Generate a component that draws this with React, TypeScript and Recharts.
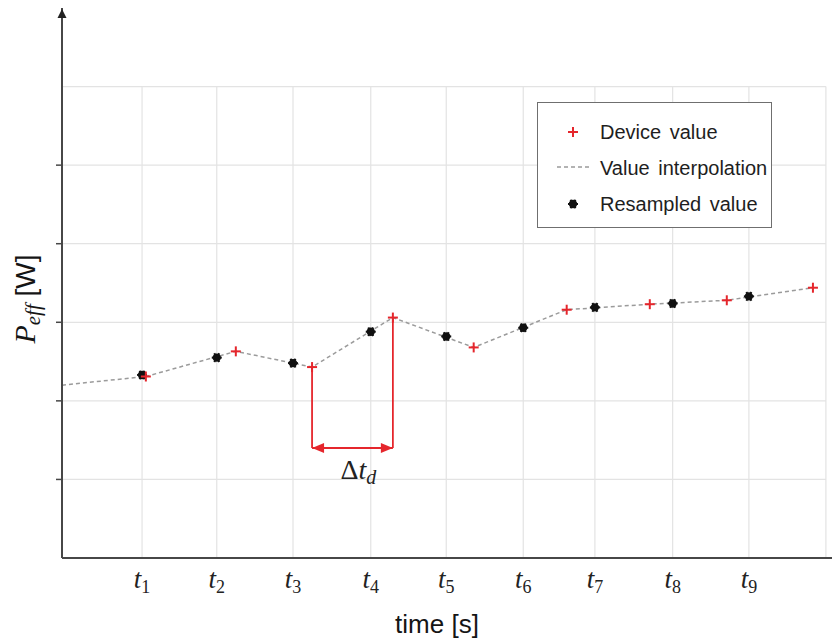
import React from "react";
import { ComposedChart, Line, Scatter, XAxis, YAxis, ReferenceLine, ReferenceDot } from "recharts";

// sample instants t1..t9 (x positions)
const tickPos = [1.05, 2.03, 3.03, 4.05, 5.04, 6.05, 6.99, 8.01, 9.01];
const tickNames = ["1", "2", "3", "4", "5", "6", "7", "8", "9"];

// device values (red +)
const deviceX = [1.1, 2.28, 3.28, 4.34, 5.4, 6.62, 7.71, 8.72, 9.85];
const deviceP = [2.31, 2.63, 2.43, 3.06, 2.68, 3.16, 3.23, 3.28, 3.44];

// resampled values (black)
const resampledX = [1.05, 2.03, 3.03, 4.05, 5.04, 6.05, 6.99, 8.01, 9.01];
const resampledP = [2.33, 2.55, 2.48, 2.88, 2.82, 2.93, 3.19, 3.24, 3.33];

// interpolation line: starts at the axis, then runs through the device values
const interpX = [0, ...deviceX];
const interpP = [2.2, ...deviceP];

const gridLevels = [1, 2, 3, 4, 5, 6];
const yTicks = [1, 2, 3, 4, 5];
const gridRight = 10.02;
const xMax = 10.1;
const yMax = 7;

// Δt_d annotation between device value 3 and 4
const delayFrom = 3.28;
const delayTo = 4.34;
const delayLevel = 1.4;

const deviceData = deviceX.map((x, i) => ({ x, p: deviceP[i] }));
const resampledData = resampledX.map((x, i) => ({ x, p: resampledP[i] }));
const interpData = interpX.map((x, i) => ({ x, p: interpP[i] }));

const RED = "#e5262c";
const AXIS = "#474747";
const GRID = "#e3e3e3";
const SERIF = "'Liberation Serif', 'DejaVu Serif', serif";
const SANS = "'Liberation Sans', Arial, sans-serif";

const PlusMark = ({ cx, cy }: any) => (
  <g stroke={RED} strokeWidth={2}>
    <line x1={cx - 5} y1={cy} x2={cx + 5} y2={cy} />
    <line x1={cx} y1={cy - 5} x2={cx} y2={cy + 5} />
  </g>
);

const StarMark = ({ cx, cy }: any) => (
  <g fill="#111" stroke="#111" strokeWidth={2}>
    <circle cx={cx} cy={cy} r={3.2} />
    <line x1={cx - 5} y1={cy} x2={cx + 5} y2={cy} />
    <line x1={cx - 2.5} y1={cy - 4.3} x2={cx + 2.5} y2={cy + 4.3} />
    <line x1={cx - 2.5} y1={cy + 4.3} x2={cx + 2.5} y2={cy - 4.3} />
  </g>
);

const TimeTick = ({ x, y, payload }: any) => {
  const i = tickPos.indexOf(payload.value);
  return (
    <text x={x} y={y + 22} textAnchor="middle" fontFamily={SERIF} fill="#222">
      <tspan fontStyle="italic" fontSize={27}>t</tspan>
      <tspan fontSize={18} dy={5}>{tickNames[i]}</tspan>
    </text>
  );
};

const legendRows = [
  { name: "Device value", icon: <PlusMark cx={35} cy={18} /> },
  {
    name: "Value interpolation",
    icon: <line x1={19} y1={17} x2={51} y2={17} stroke="#9b9b9b" strokeWidth={1.5} strokeDasharray="4 3" />,
  },
  { name: "Resampled value", icon: <StarMark cx={35} cy={18} /> },
];

export default function App() {
  return (
    <div style={{ position: "absolute", left: 0, top: 0, width: 832, height: 640, background: "#fff" }}>
      <ComposedChart width={832} height={640} margin={{ top: 8, right: 0, bottom: 22, left: 12 }}>
        <XAxis
          type="number"
          dataKey="x"
          domain={[0, xMax]}
          ticks={tickPos}
          interval={0}
          allowDataOverflow
          tick={<TimeTick />}
          tickLine={false}
          axisLine={{ stroke: AXIS, strokeWidth: 2 }}
          height={60}
          label={{
            content: ({ viewBox }: any) => (
              <text
                x={viewBox.x + viewBox.width / 2 - 10}
                y={viewBox.y + 75}
                textAnchor="middle"
                fontSize={26}
                fontFamily={SANS}
                fill="#151515"
              >
                time [s]
              </text>
            ),
          }}
        />
        <YAxis
          type="number"
          dataKey="p"
          domain={[0, yMax]}
          ticks={yTicks}
          interval={0}
          allowDataOverflow
          width={50}
          tickFormatter={() => ""}
          tickSize={6}
          tickLine={{ stroke: AXIS, strokeWidth: 1.5 }}
          axisLine={{ stroke: AXIS, strokeWidth: 2 }}
          label={{
            content: ({ viewBox }: any) => (
              <text
                transform={`translate(${viewBox.x + 23},${viewBox.y + viewBox.height / 2 + 16}) rotate(-90)`}
                textAnchor="middle"
                fill="#151515"
              >
                <tspan fontFamily={SERIF} fontStyle="italic" fontSize={30}>P</tspan>
                <tspan fontFamily={SERIF} fontStyle="italic" fontSize={21} dy={5}>eff</tspan>
                <tspan fontFamily={SANS} fontSize={28} dy={-5}> [W]</tspan>
              </text>
            ),
          }}
        />

        {gridLevels.map((v) => (
          <ReferenceLine
            key={`h${v}`}
            segment={[{ x: 0, y: v }, { x: gridRight, y: v }]}
            stroke={GRID}
            strokeWidth={1.2}
            ifOverflow="visible"
          />
        ))}
        {[...tickPos, gridRight].map((t) => (
          <ReferenceLine
            key={`v${t}`}
            segment={[{ x: t, y: 0 }, { x: t, y: gridLevels[gridLevels.length - 1] }]}
            stroke={GRID}
            strokeWidth={1.2}
            ifOverflow="visible"
          />
        ))}

        <ReferenceDot
          x={0}
          y={yMax}
          ifOverflow="visible"
          shape={({ cx, cy }: any) => (
            <polygon points={`${cx},${cy + 1} ${cx - 4.5},${cy + 10} ${cx + 4.5},${cy + 10}`} fill="#222" />
          )}
        />

        <ReferenceLine segment={[{ x: delayFrom, y: deviceP[2] }, { x: delayFrom, y: delayLevel }]} stroke={RED} strokeWidth={1.8} />
        <ReferenceLine segment={[{ x: delayTo, y: deviceP[3] }, { x: delayTo, y: delayLevel }]} stroke={RED} strokeWidth={1.8} />
        <ReferenceLine segment={[{ x: delayFrom, y: delayLevel }, { x: delayTo, y: delayLevel }]} stroke={RED} strokeWidth={1.8} />
        <ReferenceDot
          x={delayFrom}
          y={delayLevel}
          shape={({ cx, cy }: any) => (
            <polygon points={`${cx},${cy} ${cx + 12},${cy - 5} ${cx + 12},${cy + 5}`} fill={RED} />
          )}
        />
        <ReferenceDot
          x={delayTo}
          y={delayLevel}
          shape={({ cx, cy }: any) => (
            <polygon points={`${cx},${cy} ${cx - 12},${cy - 5} ${cx - 12},${cy + 5}`} fill={RED} />
          )}
        />
        <ReferenceDot
          x={(delayFrom + delayTo) / 2}
          y={delayLevel}
          shape={({ cx, cy }: any) => (
            <text x={cx + 6} y={cy + 31} textAnchor="middle" fontFamily={SERIF} fill="#222">
              <tspan fontSize={28}>Δ</tspan>
              <tspan fontSize={28} fontStyle="italic">t</tspan>
              <tspan fontSize={20} fontStyle="italic" dy={5}>d</tspan>
            </text>
          )}
        />

        <Line
          data={interpData}
          dataKey="p"
          type="linear"
          stroke="#9b9b9b"
          strokeWidth={1.5}
          strokeDasharray="4 3"
          dot={false}
          activeDot={false}
          isAnimationActive={false}
        />
        <Scatter data={resampledData} dataKey="p" shape={(p: any) => <StarMark cx={p.cx} cy={p.cy} />} isAnimationActive={false} />
        <Scatter data={deviceData} dataKey="p" shape={(p: any) => <PlusMark cx={p.cx} cy={p.cy} />} isAnimationActive={false} />
      </ComposedChart>

      <div
        style={{
          position: "absolute",
          left: 537,
          top: 102,
          width: 235,
          height: 126,
          boxSizing: "border-box",
          border: "1.5px solid #6f6f6f",
          background: "#fff",
          paddingTop: 11,
        }}
      >
        {legendRows.map((r) => (
          <div key={r.name} style={{ display: "flex", alignItems: "center", height: 36 }}>
            <svg width={62} height={36} style={{ flex: "none" }}>
              {r.icon}
            </svg>
            <span style={{ fontFamily: SANS, fontSize: 20, color: "#1e1e1e", wordSpacing: 3 }}>{r.name}</span>
          </div>
        ))}
      </div>
    </div>
  );
}
